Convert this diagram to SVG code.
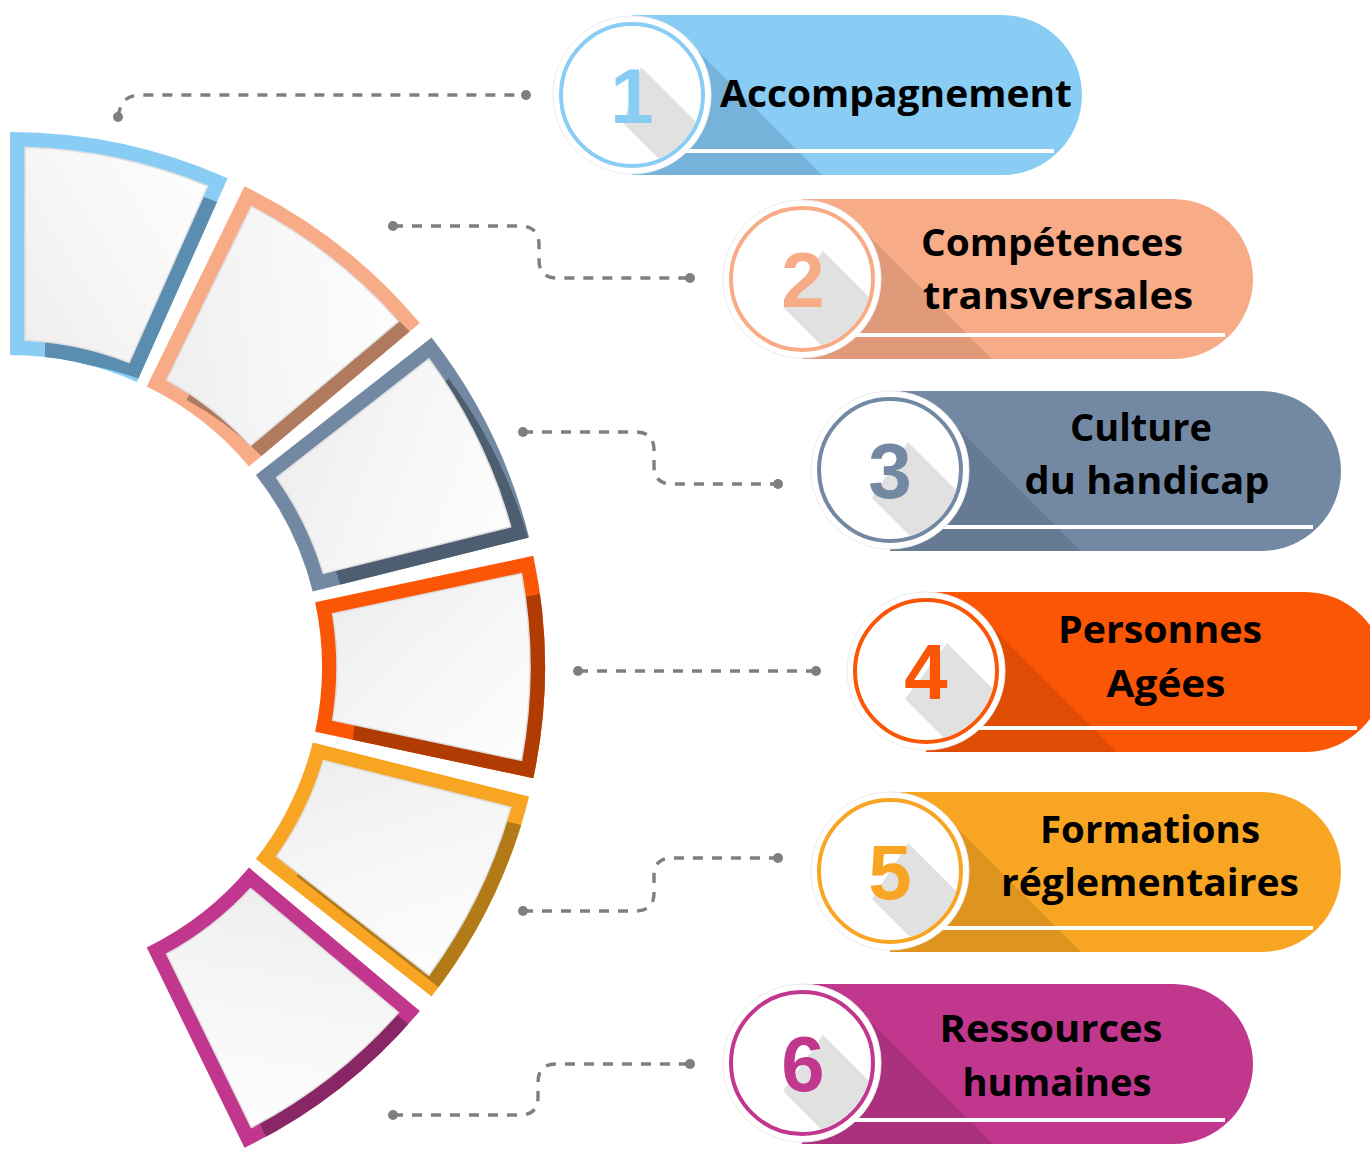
<svg xmlns="http://www.w3.org/2000/svg" xmlns:xlink="http://www.w3.org/1999/xlink" width="1370" height="1151" viewBox="0 0 1370 1151">
<style>
.panel{fill:url(#panelGrad);stroke:#dedede;stroke-width:1.5}
.halo{fill:#fff;stroke:#ececec;stroke-width:1}
.ring{fill:#fff;stroke-width:4}
.gsh{fill:#e1e1e1}
.num{font-family:"Liberation Sans",Arial,sans-serif;font-weight:700;font-size:78px;text-anchor:middle}
.lbl{font-family:"Open Sans","Noto Sans",sans-serif;font-weight:700;font-size:38px;fill:#000;text-anchor:middle}
.conn{fill:none;stroke:#7f7f7f;stroke-width:3.4;stroke-dasharray:10 9}
.dot{fill:#7f7f7f}
</style>
<defs>
<linearGradient id="panelGrad" x1="0" y1="0" x2="1" y2="1">
<stop offset="0" stop-color="#ececec"/>
<stop offset="0.5" stop-color="#f6f6f6"/>
<stop offset="1" stop-color="#fdfdfd"/>
</linearGradient>
<path id="seg-outer" d="M305.18,-64.87 L523.31,-111.23 A535,535 0 0 1 523.31,111.23 L305.18,64.87 A312,312 0 0 0 305.18,-64.87 Z"/>
<path id="seg-panel" d="M322.64,-53.25 L511.54,-93.40 A520,520 0 0 1 511.54,93.40 L322.64,53.25 A327,327 0 0 0 322.64,-53.25 Z"/>
<clipPath id="cs1"><use xlink:href="#seg-outer" transform="translate(10,667) rotate(-78)"/></clipPath>
<clipPath id="cs2"><use xlink:href="#seg-outer" transform="translate(10,667) rotate(-52)"/></clipPath>
<clipPath id="cs3"><use xlink:href="#seg-outer" transform="translate(10,667) rotate(-26)"/></clipPath>
<clipPath id="cs4"><use xlink:href="#seg-outer" transform="translate(10,667) rotate(0)"/></clipPath>
<clipPath id="cs5"><use xlink:href="#seg-outer" transform="translate(10,667) rotate(26)"/></clipPath>
<clipPath id="cs6"><use xlink:href="#seg-outer" transform="translate(10,667) rotate(52)"/></clipPath>
<clipPath id="cp1"><path d="M632,15 L1002,15 A80,80 0 0 1 1002,175 L632,175 Z"/></clipPath>
<clipPath id="cp2"><path d="M802,199 L1173,199 A80,80 0 0 1 1173,359 L802,359 Z"/></clipPath>
<clipPath id="cp3"><path d="M890,391 L1261,391 A80,80 0 0 1 1261,551 L890,551 Z"/></clipPath>
<clipPath id="cp4"><path d="M926,592 L1305,592 A80,80 0 0 1 1305,752 L926,752 Z"/></clipPath>
<clipPath id="cp5"><path d="M890,792 L1261,792 A80,80 0 0 1 1261,952 L890,952 Z"/></clipPath>
<clipPath id="cp6"><path d="M802,984 L1173,984 A80,80 0 0 1 1173,1144 L802,1144 Z"/></clipPath>
<clipPath id="cc1"><circle cx="632" cy="95" r="69"/></clipPath>
<clipPath id="cc2"><circle cx="802" cy="279" r="69"/></clipPath>
<clipPath id="cc3"><circle cx="890" cy="470" r="69"/></clipPath>
<clipPath id="cc4"><circle cx="926" cy="671" r="69"/></clipPath>
<clipPath id="cc5"><circle cx="890" cy="871" r="69"/></clipPath>
<clipPath id="cc6"><circle cx="802" cy="1063" r="69"/></clipPath>
</defs>
<rect width="1370" height="1151" fill="#fff"/>

<!-- arc segments -->
<g id="segment-1">
<use xlink:href="#seg-outer" transform="translate(10,667) rotate(-78)" fill="#89cdf4"/>
<g clip-path="url(#cs1)"><use xlink:href="#seg-panel" transform="translate(30,687) rotate(-78)" fill="#5b8db1"/></g>
<use xlink:href="#seg-panel" transform="translate(10,667) rotate(-78)" class="panel"/>
</g>
<g id="segment-2">
<use xlink:href="#seg-outer" transform="translate(10,667) rotate(-52)" fill="#f8ab87"/>
<g clip-path="url(#cs2)"><use xlink:href="#seg-panel" transform="translate(30,687) rotate(-52)" fill="#b07a5e"/></g>
<use xlink:href="#seg-panel" transform="translate(10,667) rotate(-52)" class="panel"/>
</g>
<g id="segment-3">
<use xlink:href="#seg-outer" transform="translate(10,667) rotate(-26)" fill="#7389a3"/>
<g clip-path="url(#cs3)"><use xlink:href="#seg-panel" transform="translate(30,687) rotate(-26)" fill="#4c5e70"/></g>
<use xlink:href="#seg-panel" transform="translate(10,667) rotate(-26)" class="panel"/>
</g>
<g id="segment-4">
<use xlink:href="#seg-outer" transform="translate(10,667) rotate(0)" fill="#fb5606"/>
<g clip-path="url(#cs4)"><use xlink:href="#seg-panel" transform="translate(30,687) rotate(0)" fill="#b03c04"/></g>
<use xlink:href="#seg-panel" transform="translate(10,667) rotate(0)" class="panel"/>
</g>
<g id="segment-5">
<use xlink:href="#seg-outer" transform="translate(10,667) rotate(26)" fill="#f8a524"/>
<g clip-path="url(#cs5)"><use xlink:href="#seg-panel" transform="translate(30,687) rotate(26)" fill="#b37a18"/></g>
<use xlink:href="#seg-panel" transform="translate(10,667) rotate(26)" class="panel"/>
</g>
<g id="segment-6">
<use xlink:href="#seg-outer" transform="translate(10,667) rotate(52)" fill="#c2378e"/>
<g clip-path="url(#cs6)"><use xlink:href="#seg-panel" transform="translate(30,687) rotate(52)" fill="#892766"/></g>
<use xlink:href="#seg-panel" transform="translate(10,667) rotate(52)" class="panel"/>
</g>

<!-- connectors -->
<g id="connectors">
<path class="conn" d="M118,117 C120,103 126,95 140,95 L526,95"/>
<path class="conn" d="M393,226 L520,226 Q539,226 539,245 L539,260 Q539,278 557,278 L690,278"/>
<path class="conn" d="M523,432 L636,432 Q654,432 654,450 L654,466 Q654,484 672,484 L778,484"/>
<path class="conn" d="M578,671 L816,671"/>
<path class="conn" d="M523,911 L636,911 Q654,911 654,893 L654,876 Q654,858 672,858 L778,858"/>
<path class="conn" d="M393,1115 L520,1115 Q538,1115 538,1097 L538,1082 Q538,1064 556,1064 L690,1064"/>
<circle class="dot" cx="118" cy="117" r="5"/><circle class="dot" cx="526" cy="95" r="5"/>
<circle class="dot" cx="393" cy="226" r="5"/><circle class="dot" cx="690" cy="278" r="5"/>
<circle class="dot" cx="523" cy="432" r="5"/><circle class="dot" cx="778" cy="484" r="5"/>
<circle class="dot" cx="578" cy="671" r="5"/><circle class="dot" cx="816" cy="671" r="5"/>
<circle class="dot" cx="523" cy="911" r="5"/><circle class="dot" cx="778" cy="858" r="5"/>
<circle class="dot" cx="393" cy="1115" r="5"/><circle class="dot" cx="690" cy="1064" r="5"/>
</g>

<!-- pills -->
<g id="node-1">
<path d="M632,15 L1002,15 A80,80 0 0 1 1002,175 L632,175 Z" fill="#89cdf4"/>
<g clip-path="url(#cp1)"><polygon points="687,40 907,260 797,370 577,150" fill="#77b2da"/></g>
<rect x="632" y="149" width="422" height="4" fill="#fff"/>
<circle class="halo" cx="632" cy="95" r="79"/>
<circle class="ring" cx="632" cy="95" r="71" stroke="#89cdf4"/>
<g clip-path="url(#cc1)"><polygon class="gsh" points="641,67 761,187 743,243 623,123"/></g>
<text class="num" x="632" y="123" fill="#89cdf4">1</text>
<text class="lbl" x="896" y="107" textLength="352" lengthAdjust="spacingAndGlyphs">Accompagnement</text>
</g>
<g id="node-2">
<path d="M802,199 L1173,199 A80,80 0 0 1 1173,359 L802,359 Z" fill="#f8ab87"/>
<g clip-path="url(#cp2)"><polygon points="857,224 1077,444 967,554 747,334" fill="#e09a79"/></g>
<rect x="802" y="333" width="423" height="4" fill="#fff"/>
<circle class="halo" cx="802" cy="279" r="79"/>
<circle class="ring" cx="802" cy="279" r="71" stroke="#f8ab87"/>
<g clip-path="url(#cc2)"><polygon class="gsh" points="823,251 943,371 903,427 783,307"/></g>
<text class="num" x="803" y="307" fill="#f8ab87">2</text>
<text class="lbl" x="1052" y="256" textLength="262" lengthAdjust="spacingAndGlyphs">Compétences</text>
<text class="lbl" x="1058" y="309" textLength="270" lengthAdjust="spacingAndGlyphs">transversales</text>
</g>
<g id="node-3">
<path d="M890,391 L1261,391 A80,80 0 0 1 1261,551 L890,551 Z" fill="#7389a3"/>
<g clip-path="url(#cp3)"><polygon points="945,415 1165,635 1055,745 835,525" fill="#667b93"/></g>
<rect x="890" y="525" width="423" height="4" fill="#fff"/>
<circle class="halo" cx="890" cy="470" r="79"/>
<circle class="ring" cx="890" cy="470" r="71" stroke="#7389a3"/>
<g clip-path="url(#cc3)"><polygon class="gsh" points="908,442 1028,562 992,618 872,498"/></g>
<text class="num" x="890" y="498" fill="#7389a3">3</text>
<text class="lbl" x="1141" y="441" textLength="142" lengthAdjust="spacingAndGlyphs">Culture</text>
<text class="lbl" x="1147" y="494" textLength="245" lengthAdjust="spacingAndGlyphs">du handicap</text>
</g>
<g id="node-4">
<path d="M926,592 L1305,592 A80,80 0 0 1 1305,752 L926,752 Z" fill="#fb5606"/>
<g clip-path="url(#cp4)"><polygon points="981,616 1201,836 1091,946 871,726" fill="#df4d05"/></g>
<rect x="926" y="726" width="431" height="4" fill="#fff"/>
<circle class="halo" cx="926" cy="671" r="79"/>
<circle class="ring" cx="926" cy="671" r="71" stroke="#fb5606"/>
<g clip-path="url(#cc4)"><polygon class="gsh" points="947,643 1067,763 1025,819 905,699"/></g>
<text class="num" x="926" y="699" fill="#fb5606">4</text>
<text class="lbl" x="1160" y="643" textLength="204" lengthAdjust="spacingAndGlyphs">Personnes</text>
<text class="lbl" x="1166" y="697" textLength="119" lengthAdjust="spacingAndGlyphs">Agées</text>
</g>
<g id="node-5">
<path d="M890,792 L1261,792 A80,80 0 0 1 1261,952 L890,952 Z" fill="#f8a524"/>
<g clip-path="url(#cp5)"><polygon points="945,816 1165,1036 1055,1146 835,926" fill="#df9420"/></g>
<rect x="890" y="926" width="423" height="4" fill="#fff"/>
<circle class="halo" cx="890" cy="871" r="79"/>
<circle class="ring" cx="890" cy="871" r="71" stroke="#f8a524"/>
<g clip-path="url(#cc5)"><polygon class="gsh" points="908,843 1028,963 992,1019 872,899"/></g>
<text class="num" x="890" y="899" fill="#f8a524">5</text>
<text class="lbl" x="1150" y="843" textLength="220" lengthAdjust="spacingAndGlyphs">Formations</text>
<text class="lbl" x="1150" y="896" textLength="298" lengthAdjust="spacingAndGlyphs">réglementaires</text>
</g>
<g id="node-6">
<path d="M802,984 L1173,984 A80,80 0 0 1 1173,1144 L802,1144 Z" fill="#c2378e"/>
<g clip-path="url(#cp6)"><polygon points="857,1008 1077,1228 967,1338 747,1118" fill="#ab307e"/></g>
<rect x="802" y="1118" width="423" height="4" fill="#fff"/>
<circle class="halo" cx="802" cy="1063" r="79"/>
<circle class="ring" cx="802" cy="1063" r="71" stroke="#c2378e"/>
<g clip-path="url(#cc6)"><polygon class="gsh" points="823,1035 943,1155 903,1211 783,1091"/></g>
<text class="num" x="803" y="1091" fill="#c2378e">6</text>
<text class="lbl" x="1051" y="1042" textLength="223" lengthAdjust="spacingAndGlyphs">Ressources</text>
<text class="lbl" x="1057" y="1096" textLength="189" lengthAdjust="spacingAndGlyphs">humaines</text>
</g>
</svg>
